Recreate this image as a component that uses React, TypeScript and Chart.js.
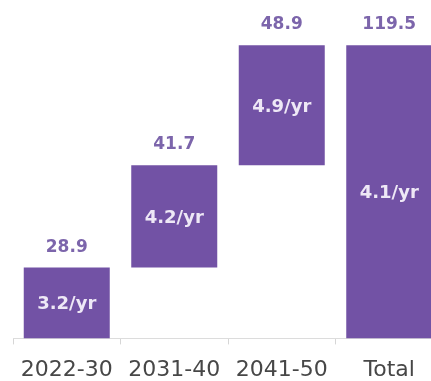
import React, { useEffect, useRef } from "react";
import { Chart, registerables } from "chart.js";

Chart.register(...registerables);

const categories = ["2022-30", "2031-40", "2041-50", "Total"];
const increments = [28.9, 41.7, 48.9];
const totalValue = 119.5;
const valueLabels = ["28.9", "41.7", "48.9", "119.5"];
const rateLabels = ["3.2/yr", "4.2/yr", "4.9/yr", "4.1/yr"];

const BAR = "#7252a5";
const VALUE_COLOR = "#7c65ab";
const INNER_COLOR = "#eee8f6";
const FONT = "'DejaVu Sans', sans-serif";

function buildRanges(): [number, number][] {
  const out: [number, number][] = [];
  let acc = 0;
  for (const v of increments) {
    out.push([acc, acc + v]);
    acc += v;
  }
  out.push([0, totalValue]);
  return out;
}

const labelPlugin = {
  id: "waterfallLabels",
  afterDatasetsDraw(chart: any) {
    const ctx = chart.ctx;
    const meta = chart.getDatasetMeta(0);
    ctx.save();
    ctx.textAlign = "center";
    ctx.textBaseline = "alphabetic";
    meta.data.forEach((bar: any, i: number) => {
      const top = Math.min(bar.y, bar.base);
      const bottom = Math.max(bar.y, bar.base);
      ctx.fillStyle = VALUE_COLOR;
      ctx.font = `bold 17px ${FONT}`;
      ctx.fillText(valueLabels[i], bar.x, top - 16);
      ctx.fillStyle = INNER_COLOR;
      ctx.font = `bold 18px ${FONT}`;
      ctx.fillText(rateLabels[i], bar.x, (top + bottom) / 2 + 6.5);
    });
    ctx.restore();
  },
};

export default function App() {
  const ref = useRef<HTMLCanvasElement | null>(null);
  useEffect(() => {
    if (!ref.current) return;
    const chart = new Chart(ref.current, {
      type: "bar",
      data: {
        labels: categories,
        datasets: [
          {
            data: buildRanges() as any,
            backgroundColor: BAR,
            borderWidth: 0,
            categoryPercentage: 1,
            barPercentage: 0.8,
          },
        ],
      },
      options: {
        animation: false,
        responsive: false,
        devicePixelRatio: 1,
        layout: { padding: { left: 13, right: 0, top: 0, bottom: 0 } },
        plugins: { legend: { display: false }, tooltip: { enabled: false } },
        scales: {
          x: {
            offset: true,
            grid: {
              display: true,
              drawOnChartArea: false,
              drawTicks: true,
              tickLength: 6,
              color: "#d6d6d6",
            },
            border: { display: true, color: "#dcdcdc", width: 1 },
            ticks: {
              color: "#474747",
              font: { family: FONT, size: 22 },
              padding: 12.6,
            },
          },
          y: { display: false, min: 0, max: 138 },
        },
      },
      plugins: [labelPlugin],
    });
    return () => chart.destroy();
  }, []);
  return (
    <div
      style={{
        position: "fixed",
        left: 0,
        top: 0,
        width: 431,
        height: 381,
        overflow: "hidden",
        background: "#fff",
      }}
    >
      <canvas ref={ref} width={443} height={396} style={{ display: "block", width: 443, height: 396 }} />
    </div>
  );
}
